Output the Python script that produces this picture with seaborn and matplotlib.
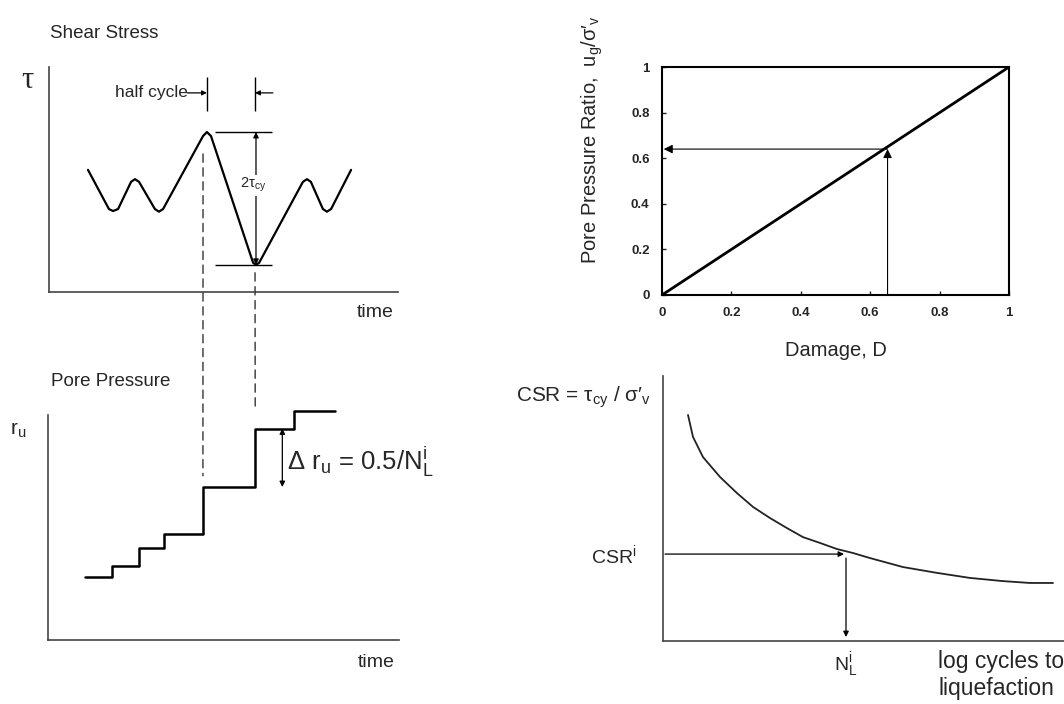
#Esquema: esfuerzo cortante ciclico, presion de poros, dano y curva CSR

import seaborn as sns
import matplotlib.pyplot as plt
from matplotlib.patches import ConnectionPatch

sns.set_style("white")
plt.rcParams['font.family'] = ['Liberation Sans', 'DejaVu Sans']
plt.rcParams['mathtext.fontset'] = 'custom'
plt.rcParams['mathtext.rm'] = 'Liberation Sans'
plt.rcParams['mathtext.it'] = 'Liberation Sans'
plt.rcParams['mathtext.bf'] = 'Liberation Sans:bold'
plt.rcParams['mathtext.default'] = 'regular'

#datos
wave_t = [1.62, 2.49, 2.66, 2.87, 3.41, 3.57, 3.74, 4.40, 4.57, 4.74, 6.40, 6.56, 6.73,
          8.48, 8.60, 8.73, 10.55, 10.72, 10.88, 11.38, 11.55, 11.72, 12.55]
wave_tau = [0.43, -0.16, -0.19, -0.16, 0.25, 0.29, 0.25, -0.16, -0.2, -0.16, 0.94, 1.0, 0.94,
            -0.97, -1.0, -0.97, 0.25, 0.29, 0.25, -0.16, -0.2, -0.16, 0.43]
peak_t = 6.56
trough_t = 8.56

step_t = [1.54, 2.66, 3.74, 4.78, 6.42, 8.56, 10.18, 11.84]
step_ru = [0.28, 0.33, 0.41, 0.47, 0.68, 0.94, 1.02, 1.02]

damage = [0, 1]
ratio = [0, 1]
damage_i = 0.65
ratio_i = 0.64
ticks_d = [0, 0.2, 0.4, 0.6, 0.8, 1]
tick_lbl = ["0", "0.2", "0.4", "0.6", "0.8", "1"]

log_n = [0.25, 0.30, 0.40, 0.57, 0.74, 0.90, 1.07, 1.24, 1.40, 1.57, 1.74, 1.90, 2.07,
         2.40, 2.74, 3.07, 3.40, 3.67, 3.90]
csr = [0.853, 0.770, 0.694, 0.619, 0.558, 0.506, 0.464, 0.426, 0.392, 0.370, 0.347, 0.332, 0.313,
       0.279, 0.257, 0.238, 0.226, 0.219, 0.219]
csr_i = 0.328
n_i = 1.83

W, H = 1064, 704
fig = plt.figure(figsize=(W/100, H/100), dpi=100)

def caja(x0, x1, yt, yb):
    return [x0/W, 1-yb/H, (x1-x0)/W, (yb-yt)/H]

def flecha(ax, a, b, estilo='-|>', ms=10, lw=1.0, color='black'):
    ax.annotate('', xy=b, xytext=a, annotation_clip=False,
                arrowprops=dict(arrowstyle=estilo, color=color, lw=lw, shrinkA=0, shrinkB=0, mutation_scale=ms))

ax1 = fig.add_axes(caja(49, 398, 67, 292))
ax2 = fig.add_axes(caja(48, 399, 415, 640))
ax3 = fig.add_axes(caja(662, 1009, 67, 295))
ax4 = fig.add_axes(caja(663, 1066, 376, 641))

for ax in [ax1, ax2, ax4]:
    ax.set_xticks([])
    ax.set_yticks([])
    ax.spines['top'].set_visible(False)
    ax.spines['right'].set_visible(False)
    for s in ['left', 'bottom']:
        ax.spines[s].set_color('#444444')
        ax.spines[s].set_linewidth(1.2)

#esfuerzo cortante
sns.lineplot(x=wave_t, y=wave_tau, ax=ax1, color='black', lw=1.6, estimator=None, sort=False)
ax1.set_xlim(0, 14.5)
ax1.set_ylim(-1.41, 1.98)
ax1.hlines([1, -1], 6.9, 9.26, color='black', lw=1)
flecha(ax1, (8.6, -1), (8.6, 1), estilo='<|-|>', ms=8, lw=0.9)
ax1.text(8.5, 0.2, r'$2\tau_{cy}$', fontsize=10.5, ha='center', va='center',
         bbox=dict(facecolor='white', edgecolor='none', pad=1))
ax1.vlines([peak_t, trough_t], 1.32, 1.83, color='black', lw=1)
ax1.text(5.75, 1.59, 'half cycle', fontsize=12.5, ha='right', va='center')
flecha(ax1, (5.75, 1.59), (peak_t, 1.59), ms=7, lw=0.9)
flecha(ax1, (9.3, 1.59), (trough_t, 1.59), ms=7, lw=0.9)
ax1.text(0.04, 2.49, 'Shear Stress', fontsize=13.5, ha='left', va='center', clip_on=False)
ax1.text(-1.15, 1.78, 'τ', fontsize=22, family='Liberation Serif', ha='left', va='center')
ax1.text(13.55, -1.72, 'time', fontsize=14, ha='center', va='center')

#presion de poros
sns.lineplot(x=step_t, y=step_ru, ax=ax2, color='black', lw=1.8, estimator=None,
             drawstyle='steps-post', clip_on=False)
ax2.set_xlim(0, 14.5)
ax2.set_ylim(0, 1)
flecha(ax2, (9.68, 0.68), (9.68, 0.94), estilo='<|-|>', ms=8, lw=0.9)
ax2.text(9.86, 0.79, r'$\Delta\ r_u$ = 0.5/$N^i_L$', fontsize=18.5, ha='left', va='center')
ax2.text(0.12, 1.147, 'Pore Pressure', fontsize=13.5, ha='left', va='center', clip_on=False)
ax2.text(-1.55, 0.93, r'$r_u$', fontsize=15, ha='left', va='center')
ax2.text(13.55, -0.1, 'time', fontsize=14, ha='center', va='center')

#lineas discontinuas entre paneles
for xa, ya, yb in [(6.4, 0.67, 0.73), (8.56, -1.12, 1.02)]:
    con = ConnectionPatch(xyA=(xa, ya), coordsA=ax1.transData, xyB=(xa, yb), coordsB=ax2.transData,
                          color='#333333', lw=1, linestyle=(0, (6, 4)))
    fig.add_artist(con)

#dano vs relacion de presion de poros
sns.lineplot(x=damage, y=ratio, ax=ax3, color='black', lw=2)
ax3.set_xlim(0, 1)
ax3.set_ylim(0, 1)
for s in ax3.spines.values():
    s.set_color('black')
    s.set_linewidth(1.5)
ax3.set_xticks(ticks_d, tick_lbl)
ax3.set_yticks(ticks_d, tick_lbl)
ax3.tick_params(bottom=True, left=True, direction='in', length=3, width=1, labelsize=9.5, pad=9)
for t in ax3.get_xticklabels() + ax3.get_yticklabels():
    t.set_fontweight('bold')
flecha(ax3, (damage_i, 0), (damage_i, ratio_i), ms=13, lw=0.8)
flecha(ax3, (damage_i, ratio_i), (0.005, ratio_i), ms=13, lw=0.8)
ax3.set_ylabel("Pore Pressure Ratio,  u$_g$/σ′$_v$", fontsize=14.5)
ax3.yaxis.set_label_coords(-0.165, 0.68)
ax3.set_xlabel('Damage, D', fontsize=14.5)
ax3.xaxis.set_label_coords(0.5, -0.2)

#curva CSR
sns.lineplot(x=log_n, y=csr, ax=ax4, color='#222222', lw=1.3, estimator=None, sort=False)
ax4.set_xlim(0, 4.03)
ax4.set_ylim(0, 1)
flecha(ax4, (0.02, csr_i), (n_i - 0.02, csr_i), ms=8, lw=0.9)
flecha(ax4, (n_i, csr_i - 0.015), (n_i, 0.015), ms=8, lw=0.9)
ax4.text(-0.03, 0.92, r"CSR = $\tau_{cy}$ / σ′$_v$", fontsize=15, ha='right', va='center',
         transform=ax4.transAxes)
ax4.text(-0.067, 0.325, r'CSR$^i$', fontsize=14, ha='right', va='center', transform=ax4.transAxes)
ax4.text(0.454, -0.09, r'$N^i_L$', fontsize=14, ha='center', va='center', transform=ax4.transAxes)
ax4.text(0.683, -0.035, 'log cycles to\nliquefaction', fontsize=16.5, ha='left', va='top',
         linespacing=1.2, transform=ax4.transAxes)

plt.savefig('out.png', dpi=100)
